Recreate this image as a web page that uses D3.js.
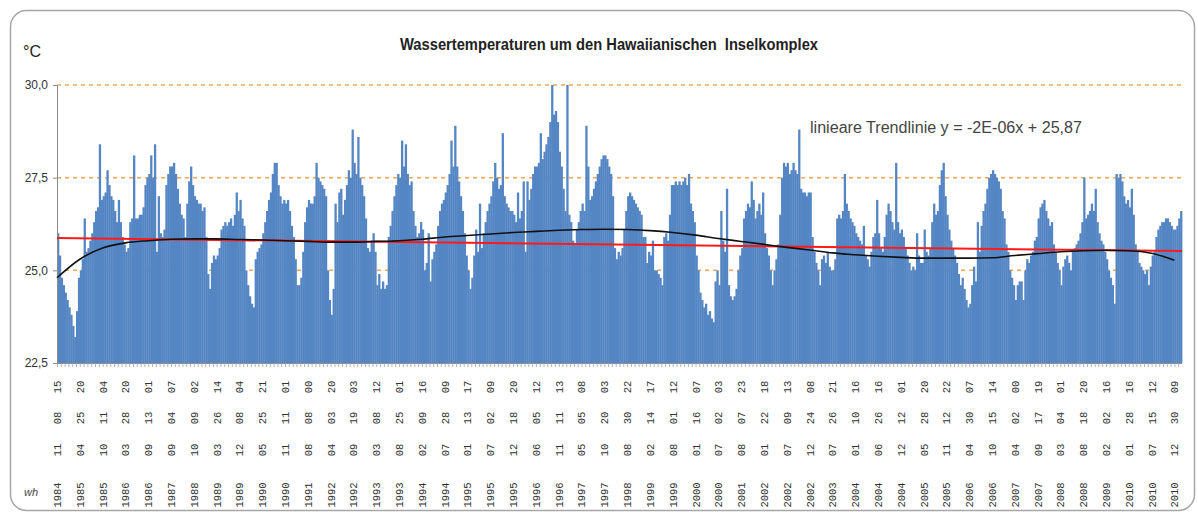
<!DOCTYPE html>
<html>
<head>
<meta charset="utf-8">
<script src="https://cdn.jsdelivr.net/npm/d3@7"></script>
<style>
  body { margin: 0; background: #fff; }
  svg { display: block; }
</style>
</head>
<body>
<svg id="chart" width="1198" height="512"></svg>
<script>
// x axis labels (one every 12 readings)
const dateLabels = [
  '1984 11 08 15', '1985 04 25 20', '1985 10 11 04', '1986 03 28 20', '1986 09 13 01',
  '1987 09 04 07', '1988 10 09 02', '1989 03 26 14', '1989 12 08 04', '1990 05 25 21',
  '1990 11 11 01', '1991 08 08 00', '1992 04 03 20', '1992 09 19 03', '1993 03 08 12',
  '1993 08 25 01', '1994 02 09 16', '1994 07 28 09', '1995 01 13 17', '1995 07 02 09',
  '1995 12 18 20', '1996 06 05 12', '1996 11 11 13', '1997 05 05 08', '1997 10 20 03',
  '1998 08 30 22', '1999 02 14 17', '1999 08 01 12', '2000 01 16 07', '2000 07 02 03',
  '2001 08 07 23', '2002 01 22 18', '2002 07 09 13', '2002 12 24 08', '2003 07 26 21',
  '2004 01 10 16', '2004 06 26 16', '2004 12 12 01', '2005 05 28 20', '2005 11 12 22',
  '2006 04 30 07', '2006 10 15 14', '2007 04 02 00', '2007 09 17 19', '2008 03 04 01',
  '2008 08 18 20', '2009 02 02 16', '2010 01 28 16', '2010 07 15 12', '2010 12 30 09'
];
const labelStep = 12;

// water temperature readings (°C)
const temps = [
  26.0, 25.4, 24.8, 24.6, 24.4, 24.2, 24.0, 23.8, 23.5, 23.2, 23.9, 24.8,
  25.0, 25.3, 26.4, 25.5, 25.6, 25.8, 26.0, 26.3, 26.6, 26.7, 28.4, 26.9,
  27.0, 27.1, 27.7, 27.3, 27.0, 26.9, 26.6, 26.3, 26.9, 26.3, 25.9, 25.7,
  25.5, 25.6, 26.3, 26.4, 28.1, 26.4, 26.4, 26.5, 26.5, 26.7, 27.3, 27.5,
  27.6, 28.1, 27.5, 28.4, 25.5, 27.0, 26.0, 25.9, 26.1, 27.3, 27.6, 27.8,
  27.8, 27.9, 27.6, 27.2, 26.8, 26.5, 26.4, 25.9, 26.8, 27.4, 27.8, 27.3,
  27.0, 26.9, 26.8, 26.8, 26.6, 26.7, 25.9, 24.9, 24.5, 25.2, 25.4, 25.3,
  25.4, 25.6, 26.1, 26.2, 26.3, 26.2, 26.3, 26.4, 26.2, 26.5, 27.1, 26.6,
  26.9, 26.4, 26.2, 25.0, 24.6, 24.3, 24.1, 24.0, 25.3, 25.5, 25.6, 25.7,
  26.0, 26.3, 26.6, 26.9, 27.1, 27.6, 27.9, 27.9, 27.3, 27.0, 26.8, 26.9,
  26.8, 26.9, 26.6, 26.2, 25.9, 25.3, 24.6, 24.6, 24.8, 25.5, 26.3, 26.7,
  26.9, 26.8, 26.8, 27.0, 27.9, 27.5, 27.4, 27.3, 27.2, 27.0, 25.0, 24.2,
  23.8, 24.5, 26.8, 26.3, 27.1, 27.2, 26.5, 26.9, 27.3, 27.7, 27.5, 28.8,
  27.9, 27.6, 28.6, 27.5, 27.3, 27.0, 26.4, 25.6, 25.5, 25.8, 26.0, 25.5,
  24.6, 24.9, 24.5, 24.7, 24.5, 24.6, 25.9, 26.2, 26.6, 27.0, 27.3, 27.6,
  27.5, 28.5, 27.8, 28.4, 27.6, 27.3, 27.4, 26.6, 26.2, 25.9, 26.0, 26.3,
  26.1, 25.0, 25.2, 26.0, 24.7, 25.3, 25.5, 25.7, 26.2, 26.6, 26.8, 26.9,
  27.1, 27.3, 27.6, 28.5, 27.8, 28.9, 27.8, 27.4, 27.0, 26.6, 26.0, 25.4,
  25.0, 24.5, 24.8, 25.4, 26.1, 25.5, 26.8, 25.6, 26.0, 26.3, 26.6, 26.8,
  27.0, 27.4, 27.9, 27.5, 27.2, 27.3, 28.7, 27.0, 26.8, 26.7, 26.6, 26.6,
  26.5, 26.3, 27.1, 26.4, 26.6, 27.4, 25.5, 27.4, 26.9, 27.2, 27.6, 27.8,
  27.8, 27.9, 28.7, 28.0, 28.2, 28.4, 28.6, 29.0, 30.0, 29.2, 29.3, 29.0,
  28.2, 27.8, 27.2, 26.6, 30.0, 26.5, 26.3, 25.8, 25.7, 26.1, 26.3, 26.6,
  26.8, 26.6, 28.9, 27.8, 26.9, 27.0, 27.2, 27.4, 27.6, 27.8, 28.0, 28.1,
  28.1, 28.0, 27.8, 27.6, 27.0, 25.6, 25.3, 25.5, 25.4, 25.6, 26.1, 26.6,
  27.0, 27.1, 27.0, 26.9, 26.8, 26.7, 26.6, 26.5, 25.9, 25.9, 25.2, 25.5,
  25.4, 25.8, 25.0, 25.0, 24.9, 24.8, 24.6, 25.9, 26.0, 25.8, 26.5, 27.3,
  27.3, 27.4, 27.3, 27.4, 27.3, 27.4, 27.5, 27.3, 27.6, 26.8, 26.6, 26.3,
  25.4, 25.0, 24.4, 24.2, 24.0, 24.1, 23.8, 23.9, 23.7, 23.6, 24.7, 25.0,
  24.6, 26.6, 25.8, 25.5, 27.2, 24.6, 24.3, 24.2, 24.3, 24.5, 25.0, 25.4,
  25.6, 26.4, 26.6, 26.8, 26.7, 27.4, 26.9, 26.4, 26.6, 26.8, 26.5, 27.1,
  26.0, 25.6, 25.4, 25.0, 24.6, 25.0, 25.3, 25.7, 26.5, 27.5, 27.9, 27.8,
  27.9, 27.6, 27.7, 27.9, 27.7, 27.6, 28.8, 27.2, 27.1, 27.1, 27.0, 27.1,
  27.1, 25.9, 25.5, 25.2, 25.0, 24.6, 25.3, 25.4, 25.2, 25.5, 25.1, 25.0,
  25.0, 25.3, 26.4, 26.5, 26.4, 26.6, 27.6, 26.8, 26.6, 26.4, 26.3, 26.2,
  26.0, 25.9, 25.8, 25.7, 26.2, 25.4, 25.3, 25.1, 25.5, 25.9, 26.0, 26.9,
  26.0, 25.6, 25.5, 25.9, 26.5, 26.8, 26.6, 26.3, 26.1, 27.9, 26.3, 26.0,
  26.1, 25.9, 25.6, 25.4, 25.2, 25.0, 25.1, 25.0, 26.0, 25.4, 25.2, 25.2,
  26.1, 25.5, 25.4, 25.6, 26.3, 26.8, 26.5, 26.6, 27.3, 27.7, 27.9, 27.0,
  26.5, 26.1, 25.8, 25.6, 25.4, 25.2, 24.9, 24.6, 24.8, 24.5, 24.2, 24.0,
  24.1, 24.6, 25.1, 24.7, 26.3, 25.5, 26.2, 26.6, 26.8, 27.2, 27.5, 27.6,
  27.7, 27.6, 27.5, 27.4, 27.2, 26.6, 26.4, 25.7, 25.5, 25.0, 24.8, 24.6,
  24.2, 24.6, 24.7, 24.7, 24.2, 25.0, 25.3, 25.2, 25.4, 25.5, 25.8, 25.9,
  26.4, 26.7, 26.8, 26.9, 26.6, 26.4, 26.2, 26.3, 25.7, 25.5, 25.2, 25.0,
  24.6, 25.1, 25.3, 25.4, 25.2, 25.0, 25.5, 25.6, 25.7, 25.8, 26.0, 26.3,
  27.5, 26.4, 26.5, 26.6, 26.8, 26.6, 27.2, 26.3, 26.0, 25.8, 25.7, 25.5,
  25.3, 25.0, 24.8, 24.6, 24.1, 27.6, 27.5, 27.6, 27.4, 27.0, 26.8, 26.9,
  26.7, 27.2, 26.5, 25.7, 25.5, 25.2, 25.1, 25.0, 24.9, 25.0, 24.6, 25.1,
  25.4, 25.5, 25.9, 26.1, 26.2, 26.3, 26.3, 26.4, 26.4, 26.3, 26.2, 26.1,
  26.1, 26.2, 26.4, 26.6
];

// smoothed trend (black), one value per x label
const smoothTrend = [
  24.80, 25.30, 25.60, 25.74, 25.80, 25.84, 25.85, 25.85, 25.83, 25.82,
  25.80, 25.78, 25.76, 25.76, 25.78, 25.80, 25.84, 25.90, 25.94, 25.98,
  26.02, 26.05, 26.08, 26.10, 26.11, 26.10, 26.07, 26.02, 25.95, 25.86,
  25.78, 25.70, 25.62, 25.55, 25.47, 25.42, 25.38, 25.35, 25.33, 25.33,
  25.33, 25.34, 25.40, 25.45, 25.50, 25.53, 25.54, 25.53, 25.46, 25.27
];

// linear trend (red): start and end values
const linTrend = [25.87, 25.52];

const yTicks = [22.5, 25.0, 27.5, 30.0];
const gridValues = [25.0, 27.5, 30.0];

const svg = d3.select('#chart');
const plotLeft = 57, plotRight = 1182, plotTop = 85, plotBottom = 363;

// chart frame
svg.append('rect')
    .attr('x', 10.5).attr('y', 10.5)
    .attr('width', 1184).attr('height', 500)
    .attr('rx', 16)
    .style('fill', '#fff')
    .style('stroke', '#a6a6a6')
    .style('stroke-width', '1.5px');

const x = d3.scaleBand().domain(d3.range(temps.length)).range([plotLeft, plotRight]).padding(0);
const y = d3.scaleLinear().domain([22.5, 30]).range([plotBottom, plotTop]);
const fmt = v => d3.format('.1f')(v).replace('.', ',');

// dashed grid lines
svg.append('g')
    .selectAll('line')
    .data(gridValues)
    .enter()
    .append('line')
    .attr('x1', plotLeft).attr('x2', plotRight)
    .attr('y1', d => y(d)).attr('y2', d => y(d))
    .style('stroke', '#f5a55a')
    .style('stroke-width', '1.5px')
    .style('stroke-dasharray', '4,4');

// bars
svg.append('g')
    .selectAll('rect')
    .data(temps)
    .enter()
    .append('rect')
    .attr('x', (d, i) => x(i))
    .attr('width', x.bandwidth() + 0.4)
    .attr('y', d => y(d))
    .attr('height', d => y(22.5) - y(d))
    .style('fill', '#5586c4');

// y axis
const yAxis = svg.append('g').attr('transform', 'translate(' + plotLeft + ',0)')
    .call(d3.axisLeft(y).tickValues(yTicks).tickFormat(fmt).tickSize(4).tickPadding(5));
yAxis.select('.domain').style('stroke', '#8c8c8c');
yAxis.selectAll('line').style('stroke', '#8c8c8c');
yAxis.selectAll('text')
    .style('font-family', '"Liberation Sans Narrow", "Liberation Sans", sans-serif')
    .style('font-size', '12px')
    .style('fill', '#333');

// x axis line with small ticks
svg.append('line')
    .attr('x1', plotLeft).attr('x2', plotRight)
    .attr('y1', plotBottom + 0.5).attr('y2', plotBottom + 0.5)
    .style('stroke', '#8c8c8c');
svg.append('g')
    .selectAll('line')
    .data(d3.range(0, temps.length, 2))
    .enter()
    .append('line')
    .attr('x1', d => x(d) + 0.5).attr('x2', d => x(d) + 0.5)
    .attr('y1', plotBottom).attr('y2', plotBottom + 4)
    .style('stroke', '#a0a0a0')
    .style('stroke-width', '0.8px');

// x labels: four groups per label, rotated
const groupY = [495, 450, 418, 387];
const lab = svg.append('g')
    .selectAll('g')
    .data(dateLabels)
    .enter()
    .append('g')
    .attr('transform', (d, i) => 'translate(' + (x(i * labelStep) + 4) + ',0)');
lab.each(function(d) {
    const parts = d.split(' ');
    d3.select(this).selectAll('text')
        .data(parts)
        .enter()
        .append('text')
        .attr('transform', (p, j) => 'translate(0,' + groupY[j] + ') rotate(-90)')
        .attr('text-anchor', 'middle')
        .text(p => p)
        .style('font-family', '"Liberation Mono", "DejaVu Sans Mono", monospace')
        .style('font-size', '10.5px')
        .style('fill', '#333');
});

// linear trend (red)
svg.append('line')
    .attr('x1', x(0)).attr('x2', x(temps.length - 1) + x.bandwidth())
    .attr('y1', y(linTrend[0])).attr('y2', y(linTrend[1]))
    .style('stroke', '#ff1a1a')
    .style('stroke-width', '2px');

// smoothed trend (black)
const smoothLine = d3.line()
    .x((d, i) => x(i * labelStep))
    .y(d => y(d))
    .curve(d3.curveMonotoneX);
svg.append('path')
    .datum(smoothTrend)
    .attr('d', smoothLine)
    .style('fill', 'none')
    .style('stroke', '#111')
    .style('stroke-width', '1.6px');

// texts
svg.append('text')
    .attr('x', 400).attr('y', 50)
    .attr('textLength', 418)
    .attr('lengthAdjust', 'spacingAndGlyphs')
    .text('Wassertemperaturen um den Hawaiianischen\u00a0 Inselkomplex')
    .style('font-family', '"Liberation Sans Narrow", "Liberation Sans", sans-serif')
    .style('font-weight', 'bold')
    .style('font-size', '16px')
    .style('fill', '#222');

svg.append('text')
    .attr('x', 810).attr('y', 133)
    .attr('textLength', 272)
    .attr('lengthAdjust', 'spacingAndGlyphs')
    .text('linieare Trendlinie y = -2E-06x + 25,87')
    .style('font-family', '"Liberation Sans Narrow", "Liberation Sans", sans-serif')
    .style('font-size', '16px')
    .style('fill', '#444');

svg.append('text')
    .attr('x', 23).attr('y', 57)
    .text('°C')
    .style('font-family', '"Liberation Sans Narrow", "Liberation Sans", sans-serif')
    .style('font-size', '16px')
    .style('fill', '#222');

svg.append('text')
    .attr('x', 24).attr('y', 496)
    .text('wh')
    .style('font-family', '"Liberation Sans", sans-serif')
    .style('font-style', 'italic')
    .style('font-size', '11px')
    .style('fill', '#444');
</script>
</body>
</html>
